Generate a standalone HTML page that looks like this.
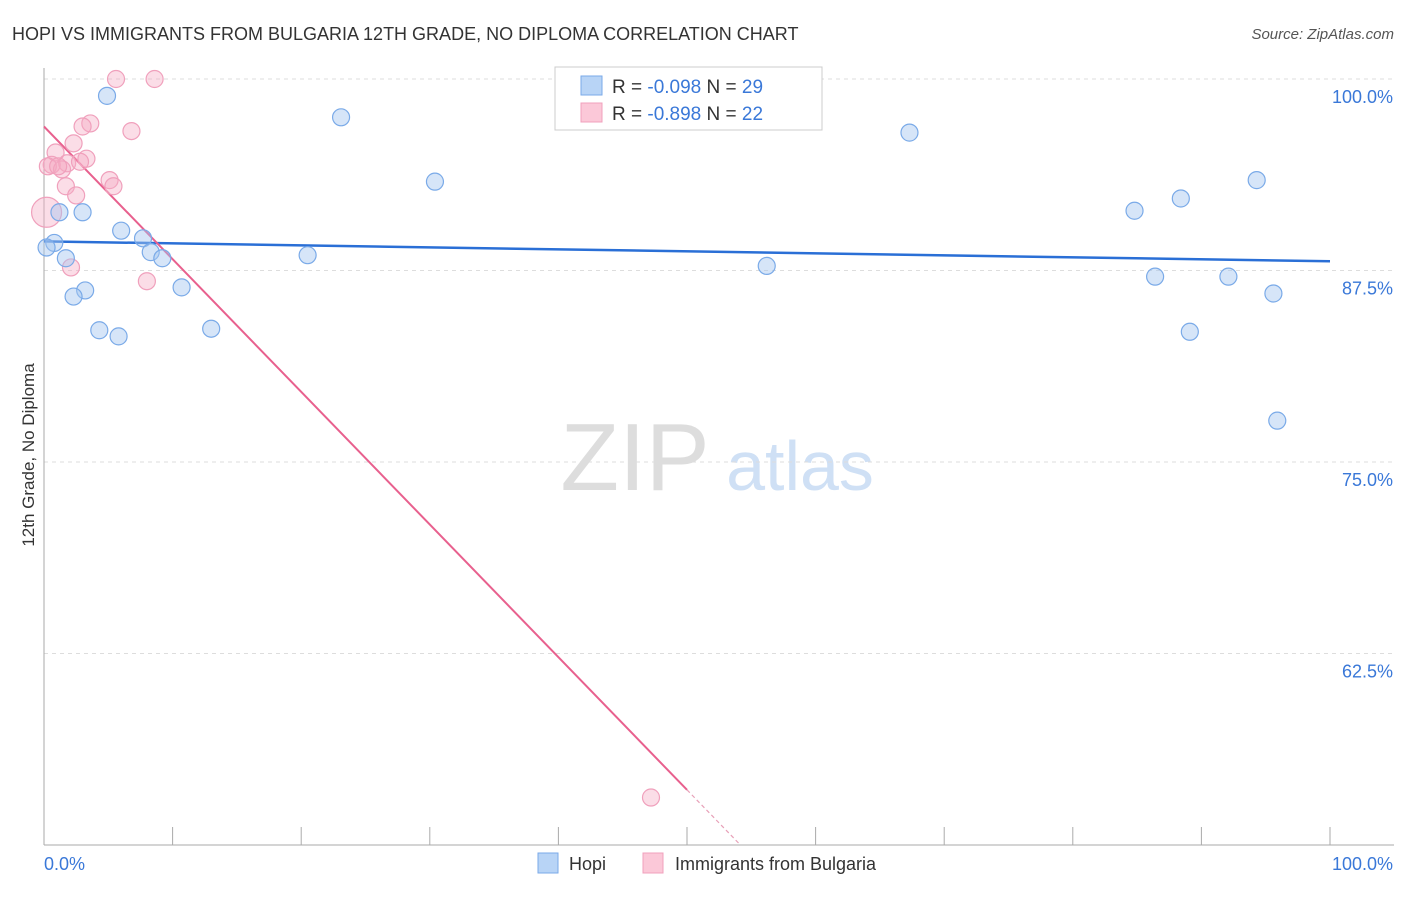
<!DOCTYPE html>
<html><head><meta charset="utf-8"><style>
body{margin:0;background:#fff;font-family:"Liberation Sans",sans-serif;}
svg text{font-family:"Liberation Sans",sans-serif;}
</style></head><body>
<svg id="chart" width="1406" height="892" xmlns="http://www.w3.org/2000/svg">
<text x="12" y="40" font-size="18" fill="#333">HOPI VS IMMIGRANTS FROM BULGARIA 12TH GRADE, NO DIPLOMA CORRELATION CHART</text>
<text x="1394" y="39" font-size="15" fill="#555" text-anchor="end" font-style="italic">Source: ZipAtlas.com</text>
<text transform="translate(34,455) rotate(-90)" font-size="17" fill="#333" text-anchor="middle">12th Grade, No Diploma</text>
<g>
<text x="635" y="490" font-size="96" fill="#ddd" text-anchor="middle" font-family="Liberation Serif,serif">ZIP</text>
<text x="800" y="490" font-size="70" fill="#cfe0f5" text-anchor="middle">atlas</text>
</g>
<g id="grid"></g><g id="axes"></g><g id="trend"></g><g id="pts"></g>
<g>
<rect x="555" y="67" width="267" height="63" fill="#fff" stroke="#ccc"/>
<rect x="581" y="76" width="21" height="19" fill="#b8d4f6" stroke="#7aaae8"/>
<text x="612" y="93" font-size="19" fill="#333">R = <tspan fill="#3a78d8">-0.098</tspan>   N = <tspan fill="#3a78d8">29</tspan></text>
<rect x="581" y="103" width="21" height="19" fill="#fbc8d8" stroke="#f0a0bc"/>
<text x="612" y="120" font-size="19" fill="#333">R = <tspan fill="#3a78d8">-0.898</tspan>   N = <tspan fill="#3a78d8">22</tspan></text>
</g>
<g>
<rect x="538" y="853" width="20" height="20" fill="#b8d4f6" stroke="#7aaae8"/>
<text x="569" y="870" font-size="18" fill="#333">Hopi</text>
<rect x="643" y="853" width="20" height="20" fill="#fbc8d8" stroke="#f0a0bc"/>
<text x="675" y="870" font-size="18" fill="#333">Immigrants from Bulgaria</text>
</g>
</svg>
<script>
const hopiX=[4.9,23.1,67.3,30.4,94.3,84.8,88.4,1.2,3.0,6.0,7.7,8.3,9.2,0.8,0.2,1.7,20.5,56.2,86.4,92.1,95.6,3.2,2.3,10.7,4.3,5.8,13.0,89.1,95.9];
const hopiY=[98.9,97.5,96.5,93.3,93.4,91.4,92.2,91.3,91.3,90.1,89.6,88.7,88.3,89.3,89.0,88.3,88.5,87.8,87.1,87.1,86.0,86.2,85.8,86.4,83.6,83.2,83.7,83.5,77.7];
const bulX=[5.6,8.6,3.6,3.0,6.8,2.3,0.9,3.3,0.6,0.3,1.8,1.4,2.8,5.1,5.4,1.7,2.5,0.2,2.1,8.0,47.2,1.1];
const bulY=[100,100,97.1,96.9,96.6,95.8,95.2,94.8,94.4,94.3,94.5,94.1,94.6,93.4,93.0,93.0,92.4,91.3,87.7,86.8,53.1,94.3];
const yTicks=[100,87.5,75,62.5];
const yTickLabels=["100.0%","87.5%","75.0%","62.5%"];
const hopiTrend=[89.4,88.1];
const bulTrend=[96.9,-0.866];
const NS="http://www.w3.org/2000/svg";
const sx=v=>44+v*12.86, sy=v=>79+(100-v)*15.32;
function mk(tag,attrs,parent){const e=document.createElementNS(NS,tag);for(const k in attrs)e.setAttribute(k,attrs[k]);document.getElementById(parent).appendChild(e);return e;}
yTicks.forEach((t,i)=>{
 const l=mk('line',{x1:44,x2:1394,y1:sy(t),y2:sy(t),stroke:'#ddd','stroke-dasharray':'4,4'},'grid');
 
 
 const tx=mk('text',{x:1393,y:sy(t)+24,'font-size':18,fill:'#3a78d8','text-anchor':'end'},'grid');
 tx.textContent=yTickLabels[i];
 
 
});
let a=mk('line',{x1:44,x2:44,y1:68,y2:845,stroke:'#aaa'},'axes');


a=mk('line',{x1:44,x2:1394,y1:845,y2:845,stroke:'#aaa'},'axes');


for(let i=0;i<=10;i++){const t=mk('line',{x1:sx(i*10),x2:sx(i*10),y1:827,y2:845,stroke:'#aaa'},'axes');
 
 }
let t0=mk('text',{x:44,y:870,'font-size':18,fill:'#3a78d8'},'axes');t0.textContent='0.0%';


t0=mk('text',{x:1393,y:870,'font-size':18,fill:'#3a78d8','text-anchor':'end'},'axes');t0.textContent='100.0%';


let tl=mk('line',{x1:sx(0),y1:sy(hopiTrend[0]),x2:sx(100),y2:sy(hopiTrend[1]),stroke:'#2a6fd6','stroke-width':2.5},'trend');


const xEnd=(50-bulTrend[0])/bulTrend[1];
tl=mk('line',{x1:sx(0),y1:sy(bulTrend[0]),x2:sx(50),y2:sy(bulTrend[0]+bulTrend[1]*50),stroke:'#e8608e','stroke-width':2},'trend');


tl=mk('line',{x1:sx(50),y1:sy(bulTrend[0]+bulTrend[1]*50),x2:sx(xEnd),y2:sy(50),stroke:'#e8a0b8','stroke-width':1.2,'stroke-dasharray':'4,3'},'trend');


bulX.forEach((x,i)=>{const c=mk('circle',{cx:sx(x),cy:sy(bulY[i]),r:(i==17?15:8.5),fill:'rgba(245,170,195,0.4)',stroke:'#f0a0bc','stroke-width':1.2},'pts');
 
 });
hopiX.forEach((x,i)=>{const c=mk('circle',{cx:sx(x),cy:sy(hopiY[i]),r:8.5,fill:'rgba(165,198,240,0.45)',stroke:'#7aaae8','stroke-width':1.2},'pts');
 
 });
</script>
</body></html>
